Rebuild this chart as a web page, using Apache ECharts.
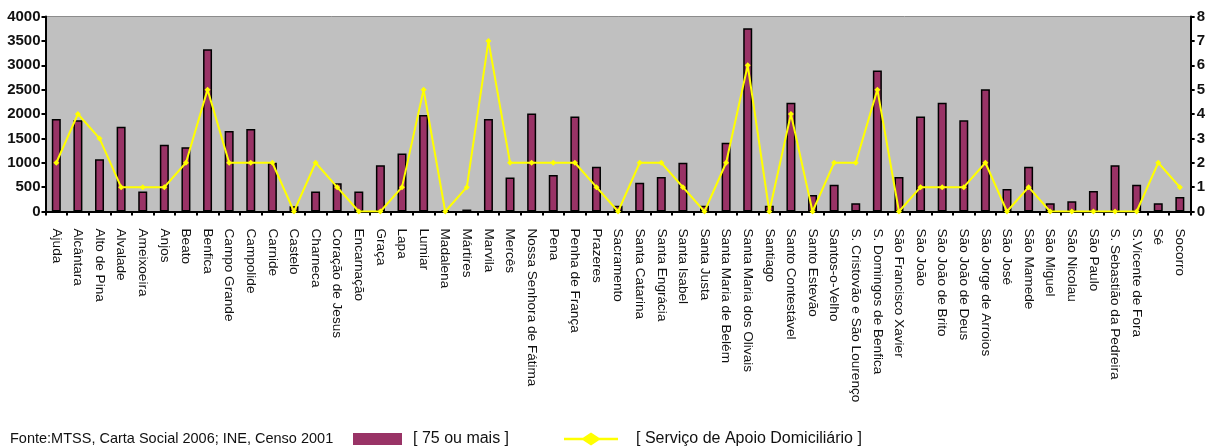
<!DOCTYPE html>
<html>
<head>
<meta charset="utf-8">
<script src="https://cdn.jsdelivr.net/npm/echarts@6/dist/echarts.min.js"></script>
<style>
  html, body { margin: 0; padding: 0; background: #fff; }
  #chart { width: 1208px; height: 447px; }
</style>
</head>
<body>
<div id="chart"></div>
<script>
// Freguesias de Lisboa
const categories = [
  'Ajuda', 'Alcântara', 'Alto de Pina', 'Alvalade', 'Ameixoeira', 'Anjos', 'Beato', 'Benfica',
  'Campo Grande', 'Campolide', 'Carnide', 'Castelo', 'Charneca', 'Coração de Jesus', 'Encarnação',
  'Graça', 'Lapa', 'Lumiar', 'Madalena', 'Mártires', 'Marvila', 'Mercês', 'Nossa Senhora de Fátima',
  'Pena', 'Penha de França', 'Prazeres', 'Sacramento', 'Santa Catarina', 'Santa Engrácia',
  'Santa Isabel', 'Santa Justa', 'Santa Maria de Belém', 'Santa Maria dos Olivais', 'Santiago',
  'Santo Contestável', 'Santo Estevão', 'Santos-o-Velho', 'S. Cristovão e São Lourenço',
  'S. Domingos de Benfica', 'São Francisco Xavier', 'São João', 'São João de Brito',
  'São João de Deus', 'São Jorge de Arroios', 'São José', 'São Mamede', 'São Miguel',
  'São Nicolau', 'São Paulo', 'S. Sebastião da Pedreira', 'S.Vicente de Fora', 'Sé', 'Socorro'
];

// População com 75 ou mais anos (eixo esquerdo)
const idosos75 = [
  1900, 1870, 1070, 1740, 410, 1370, 1320, 3330,
  1650, 1690, 1000, 110, 410, 580, 410,
  950, 1190, 1980, 30, 40, 1900, 700, 2010,
  750, 1950, 920, 120, 590, 710,
  1000, 120, 1410, 3760, 120,
  2230, 340, 550, 170,
  2890, 710, 1950, 2230,
  1870, 2510, 460, 920, 170,
  210, 420, 950, 550, 170, 300
];

// Respostas de Serviço de Apoio Domiciliário (eixo direito)
const apoioDomiciliario = [
  2, 4, 3, 1, 1, 1, 2, 5,
  2, 2, 2, 0, 2, 1, 0,
  0, 1, 5, 0, 1, 7, 2, 2,
  2, 2, 1, 0, 2, 2,
  1, 0, 2, 6, 0,
  4, 0, 2, 2,
  5, 0, 1, 1,
  1, 2, 0, 1, 0,
  0, 0, 0, 0, 2, 1
];

const leftTicks = { min: 0, max: 4000, interval: 500 };
const rightTicks = { min: 0, max: 8, interval: 1 };

const serieBarras = '[ 75 ou mais ]';
const serieLinha = '[ Serviço de Apoio Domiciliário ]';
const fonte = 'Fonte:MTSS, Carta Social 2006; INE, Censo 2001';

const FONT = '"Liberation Sans", Arial, sans-serif';

// legend key for the line: a stroke with a diamond in the middle
const lineKeyIcon = 'path://M0,5.2 L19,5.2 L27,0 L35,5.2 L54,5.2 L54,7.8 L35,7.8 L27,13 L19,7.8 L0,7.8 Z';

const chart = echarts.init(document.getElementById('chart'), null, { renderer: 'canvas' });

chart.setOption({
  animation: false,
  backgroundColor: '#ffffff',
  textStyle: { fontFamily: FONT },
  grid: {
    left: 45.5, right: 16.5, top: 16.5, bottom: 235.5,
    show: true,
    backgroundColor: '#C0C0C0',
    borderColor: '#8c8c8c',
    borderWidth: 1
  },
  legend: [
    {
      data: [serieBarras],
      left: 348, top: 426,
      itemWidth: 49, itemHeight: 12,
      icon: 'rect',
      itemStyle: { borderWidth: 0 },
      textStyle: { fontSize: 16, color: '#111', fontFamily: FONT, padding: [0, 0, 0, 6] }
    },
    {
      data: [{ name: serieLinha, icon: lineKeyIcon }],
      left: 559, top: 426,
      itemWidth: 54, itemHeight: 13,
      itemStyle: { borderWidth: 0 },
      textStyle: { fontSize: 16, color: '#111', fontFamily: FONT, padding: [0, 0, 0, 13] }
    }
  ],
  graphic: [
    {
      type: 'text',
      left: 10, top: 431,
      style: { text: fonte, font: '14.5px ' + FONT, fill: '#111' }
    }
  ],
  xAxis: {
    type: 'category',
    data: categories,
    boundaryGap: true,
    axisLine: { lineStyle: { color: '#000', width: 2 } },
    axisTick: { show: true, alignWithLabel: false, length: 4, lineStyle: { color: '#000', width: 2 } },
    axisLabel: {
      interval: 0,
      rotate: -90,
      margin: 17,
      fontSize: 13.6,
      color: '#111',
      fontFamily: FONT
    }
  },
  yAxis: [
    {
      type: 'value',
      position: 'left',
      min: leftTicks.min, max: leftTicks.max, interval: leftTicks.interval,
      axisLine: { show: true, lineStyle: { color: '#000', width: 2 } },
      axisTick: { show: true, length: 4, lineStyle: { color: '#000', width: 2 } },
      splitLine: { show: false },
      axisLabel: {
        fontSize: 15, fontWeight: 'bold', color: '#111', margin: 5, fontFamily: FONT,
        formatter: v => String(v)
      }
    },
    {
      type: 'value',
      position: 'right',
      min: rightTicks.min, max: rightTicks.max, interval: rightTicks.interval,
      axisLine: { show: true, lineStyle: { color: '#000', width: 2 } },
      axisTick: { show: true, length: 4, lineStyle: { color: '#000', width: 2 } },
      splitLine: { show: false },
      axisLabel: { fontSize: 15, fontWeight: 'bold', color: '#111', margin: 6, fontFamily: FONT }
    }
  ],
  series: [
    {
      name: serieBarras,
      type: 'bar',
      yAxisIndex: 0,
      data: idosos75,
      barWidth: 9,
      itemStyle: { color: '#993366', borderColor: '#000', borderWidth: 1.5 }
    },
    {
      name: serieLinha,
      type: 'line',
      yAxisIndex: 1,
      data: apoioDomiciliario,
      symbol: 'diamond',
      symbolSize: 6,
      itemStyle: { color: '#FFFF00' },
      lineStyle: { color: '#FFFF00', width: 2 },
      z: 3
    }
  ]
});
</script>
</body>
</html>
